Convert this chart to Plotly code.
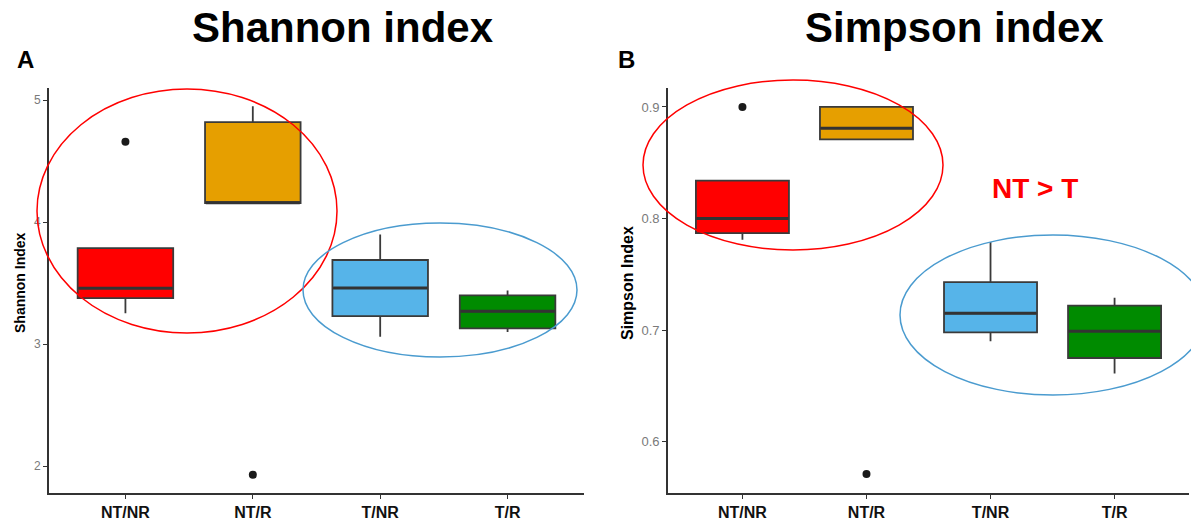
import plotly.graph_objects as go

W, H = 1191, 523
FONT = "Liberation Sans, Arial, sans-serif"

categories = ["NT/NR", "NT/R", "T/NR", "T/R"]
colors = ["#FF0000", "#E69F00", "#56B4E9", "#008B00"]

# Shannon index box statistics
sh_q1 = [3.377, 4.156, 3.23, 3.13]
sh_med = [3.459, 4.16, 3.46, 3.27]
sh_q3 = [3.787, 4.82, 3.69, 3.40]
sh_lo = [3.254, 4.156, 3.06, 3.10]
sh_hi = [3.787, 4.95, 3.90, 3.44]
sh_out_cat = ["NT/NR", "NT/R"]
sh_out_val = [4.66, 1.93]

# Simpson index box statistics
si_q1 = [0.787, 0.871, 0.698, 0.675]
si_med = [0.800, 0.881, 0.715, 0.699]
si_q3 = [0.834, 0.900, 0.743, 0.722]
si_lo = [0.781, 0.871, 0.690, 0.661]
si_hi = [0.834, 0.900, 0.779, 0.729]
si_out_cat = ["NT/NR", "NT/R"]
si_out_val = [0.900, 0.571]

sh_ticks = [2, 3, 4, 5]
si_ticks = [0.6, 0.7, 0.8, 0.9]


def px(x):
    return x / W


def py(y):
    return 1 - y / H


fig = go.Figure()


def add_panel(xa, ya, q1, med, q3, lo, hi, out_cat, out_val, median_px):
    for i, c in enumerate(categories):
        fig.add_trace(go.Box(
            x=[c], q1=[q1[i]], median=[med[i]], q3=[q3[i]],
            lowerfence=[lo[i]], upperfence=[hi[i]],
            fillcolor=colors[i], line=dict(color="#3a3a3a", width=1.8),
            whiskerwidth=0, width=0.75, boxpoints=False,
            xaxis=xa, yaxis=ya, showlegend=False, hoverinfo="skip",
        ))
    # thicker median bars (line-ew symbol length is 1.4 x size)
    fig.add_trace(go.Scatter(
        x=categories, y=med, mode="markers", xaxis=xa, yaxis=ya,
        marker=dict(symbol="line-ew", size=median_px / 1.4,
                    line=dict(color="#333333", width=3)),
        showlegend=False, hoverinfo="skip",
    ))
    fig.add_trace(go.Scatter(
        x=out_cat, y=out_val, mode="markers", xaxis=xa, yaxis=ya,
        marker=dict(color="#1a1a1a", size=8),
        showlegend=False, hoverinfo="skip",
    ))


add_panel("x", "y", sh_q1, sh_med, sh_q3, sh_lo, sh_hi, sh_out_cat, sh_out_val, 94)
add_panel("x2", "y2", si_q1, si_med, si_q3, si_lo, si_hi, si_out_cat, si_out_val, 92)

xcommon = dict(type="category", categoryorder="array", categoryarray=categories,
               range=[-0.6, 3.6], showgrid=False, zeroline=False,
               showline=True, linecolor="#333333", linewidth=1.8,
               ticks="outside", ticklen=4, tickcolor="#333333", tickwidth=1,
               tickfont=dict(family=FONT, size=16, color="#111111", weight="bold"),
               fixedrange=True)
ycommon = dict(showgrid=False, zeroline=False, showline=True, linecolor="#333333",
               linewidth=1.8, ticks="outside", ticklen=4, tickcolor="#333333",
               tickwidth=1, fixedrange=True)

y_dom = [py(493), py(88)]
fig.update_layout(
    width=W, height=H, margin=dict(l=0, r=0, t=0, b=0),
    paper_bgcolor="white", plot_bgcolor="white",
    xaxis=dict(domain=[px(49), px(584)], anchor="y", **xcommon),
    xaxis2=dict(domain=[px(668), px(1189)], anchor="y2", **xcommon),
    yaxis=dict(domain=y_dom, anchor="x", range=[1.78, 5.10], tickvals=sh_ticks,
               ticktext=[str(t) for t in sh_ticks],
               tickfont=dict(family=FONT, size=12, color="#7a7a7a"), **ycommon),
    yaxis2=dict(domain=y_dom, anchor="x2", range=[0.554, 0.917], tickvals=si_ticks,
                ticktext=[f"{t:.1f}" for t in si_ticks],
                tickfont=dict(family=FONT, size=13, color="#7a7a7a"), **ycommon),
    showlegend=False,
)

# Ellipses highlighting groups
ellipses = [
    (37, 337, 89, 333, "#FF0000"),
    (303, 577, 223, 357, "#4A9BCF"),
    (643, 943, 80, 250, "#FF0000"),
    (900, 1206, 235, 395, "#4A9BCF"),
]
for x0, x1, y0, y1, col in ellipses:
    fig.add_shape(type="circle", xref="paper", yref="paper",
                  x0=px(x0), x1=px(x1), y0=py(y1), y1=py(y0),
                  line=dict(color=col, width=1.5), fillcolor="rgba(0,0,0,0)")

annots = [
    dict(text="Shannon index", x=343, y=28, size=42, color="black", angle=0),
    dict(text="Simpson index", x=954, y=28, size=42, color="black", angle=0),
    dict(text="A", x=25, y=59, size=24, color="black", angle=0),
    dict(text="B", x=626, y=59, size=24, color="black", angle=0),
    dict(text="NT > T", x=1035, y=188, size=28, color="#FF0000", angle=0),
    dict(text="Shannon Index", x=20, y=283, size=14, color="black", angle=-90),
    dict(text="Simpson Index", x=627, y=283, size=16, color="black", angle=-90),
]
for a in annots:
    fig.add_annotation(text=a["text"], x=px(a["x"]), y=py(a["y"]), xref="paper",
                       yref="paper", showarrow=False, textangle=a["angle"],
                       xanchor="center", yanchor="middle",
                       font=dict(family=FONT, size=a["size"], color=a["color"],
                                 weight="bold"))

fig.write_html("out.html", config={"displayModeBar": False},
               post_script="document.body.style.margin='0';document.body.style.overflow='hidden';")
